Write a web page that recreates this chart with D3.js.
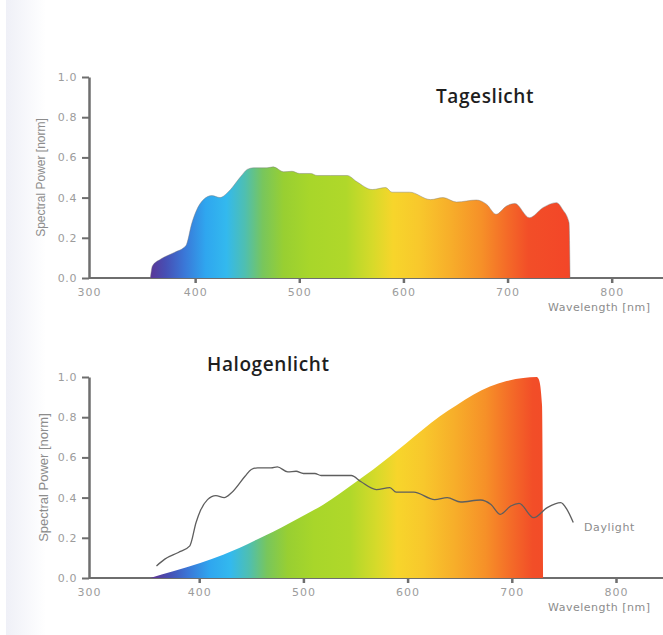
<!DOCTYPE html>
<html>
<head>
<meta charset="utf-8">
<script src="https://cdn.jsdelivr.net/npm/d3@7"></script>
<style>
  body { margin: 0; background: #fff; }
</style>
</head>
<body>
<div id="chart"></div>
<script>
// daylight spectrum (Tageslicht)
const dayWl = [357, 359, 367, 380, 391, 397, 401, 408, 416, 424, 431, 444, 450, 456, 469, 475, 485, 493, 500, 511, 517, 530, 546, 555, 570, 583, 589, 606, 626, 638, 651, 670, 680, 689, 699, 707, 721, 734, 747, 753, 759, 760];
const dayVal = [0.0, 0.06, 0.094, 0.127, 0.16, 0.276, 0.333, 0.39, 0.41, 0.40, 0.424, 0.506, 0.54, 0.548, 0.548, 0.553, 0.528, 0.531, 0.52, 0.52, 0.51, 0.51, 0.51, 0.48, 0.44, 0.45, 0.427, 0.427, 0.39, 0.40, 0.378, 0.388, 0.366, 0.317, 0.358, 0.371, 0.30, 0.35, 0.375, 0.34, 0.276, 0.0];

// halogen spectrum
const haloWl = [353, 375, 401, 423, 439, 455, 471, 487, 503, 519, 535, 551, 567, 583, 599, 615, 631, 647, 663, 679, 695, 711, 724, 726, 729, 730];
const haloVal = [0.0, 0.033, 0.075, 0.116, 0.15, 0.19, 0.23, 0.274, 0.318, 0.365, 0.42, 0.48, 0.54, 0.605, 0.672, 0.74, 0.805, 0.86, 0.912, 0.953, 0.98, 0.995, 1.0, 0.987, 0.86, 0.0];

const yTicks = [0, 0.2, 0.4, 0.6, 0.8, 1.0];
const xTicks = [300, 400, 500, 600, 700, 800];

// spectrum colours along wavelength
const spectrumStops = [
  [356, "#5b3595"], [372, "#4650b5"], [390, "#3a78d8"], [410, "#2fa6ef"],
  [430, "#33b9ee"], [448, "#4fbfb0"], [465, "#78c65c"], [485, "#98cf32"],
  [510, "#a8d62a"], [545, "#b0d82a"], [570, "#d6da2a"], [590, "#f7d52b"],
  [615, "#f8c82c"], [645, "#f7ae2a"], [675, "#f69028"], [700, "#f46a28"],
  [720, "#f24e28"], [760, "#f34628"]
];

const W = 663, H = 635;
const svg = d3.select("#chart").append("svg")
  .attr("width", W).attr("height", H)
  .style("font-family", "DejaVu Sans, sans-serif");

const defs = svg.append("defs");
const scan = defs.append("linearGradient").attr("id", "scan")
  .attr("x1", "0%").attr("x2", "100%");
scan.append("stop").attr("offset", "0%").attr("stop-color", "#eff0f7");
scan.append("stop").attr("offset", "100%").attr("stop-color", "#ffffff");
svg.append("rect").attr("x", 6).attr("y", 0).attr("width", 40).attr("height", H)
  .attr("fill", "url(#scan)");

// the two printed charts are not quite aligned, so each gets its own x scale
const xTop = d3.scaleLinear().domain([300, 800]).range([91, 611.7]);
const xBot = d3.scaleLinear().domain([300, 800]).range([95, 616]);

function spectrumGradient(id, x) {
  const g = defs.append("linearGradient").attr("id", id)
    .attr("gradientUnits", "userSpaceOnUse")
    .attr("x1", x(350)).attr("x2", x(800)).attr("y1", 0).attr("y2", 0);
  spectrumStops.forEach(function (s) {
    g.append("stop")
      .attr("offset", (x(s[0]) - x(350)) / (x(800) - x(350)))
      .attr("stop-color", s[1]);
  });
}
spectrumGradient("spec1", xTop);
spectrumGradient("spec2", xBot);

function drawAxes(x, top, bottom, labelSize, labelX) {
  const y = d3.scaleLinear().domain([0, 1]).range([bottom, top]);

  const gx = svg.append("g")
    .attr("transform", "translate(0," + bottom + ")")
    .call(d3.axisBottom(x).tickValues(xTicks).tickSize(5).tickSizeOuter(0).tickPadding(5));
  gx.select(".domain").attr("d", "M89,0H663").attr("stroke", "#6e6e6e").attr("stroke-width", 2);
  gx.selectAll(".tick line").attr("stroke", "#6e6e6e").attr("stroke-width", 2.5)
    .attr("opacity", d => d === 300 ? 0 : 1);
  gx.selectAll(".tick text")
    .attr("fill", "#9c9c9c").style("font-size", "11px").style("letter-spacing", "1px")
    .style("font-family", "DejaVu Sans, sans-serif")
    .attr("dx", d => d === 300 ? (89 - x(300)) : 0);

  const gy = svg.append("g")
    .attr("transform", "translate(89,0)")
    .call(d3.axisLeft(y).tickValues(yTicks).tickFormat(d3.format(".1f"))
      .tickSize(7).tickSizeOuter(0).tickPadding(5));
  gy.select(".domain").attr("stroke", "#6e6e6e").attr("stroke-width", 2.5);
  gy.selectAll(".tick line").attr("stroke", "#6e6e6e").attr("stroke-width", 2);
  gy.selectAll(".tick text")
    .attr("fill", "#9c9c9c").style("font-size", "11px").style("letter-spacing", "0.6px")
    .style("font-family", "DejaVu Sans, sans-serif");

  svg.append("text")
    .attr("transform", "translate(" + labelX + "," + ((top + bottom) / 2) + ") rotate(-90)")
    .attr("text-anchor", "middle")
    .attr("fill", "#8c8c8c")
    .style("font-family", "Liberation Sans Narrow, Liberation Sans, sans-serif")
    .style("font-size", labelSize + "px")
    .text("Spectral Power [norm]");

  svg.append("text")
    .attr("x", 548).attr("y", bottom + 33)
    .attr("fill", "#8c8c8c")
    .style("font-size", "11px").style("letter-spacing", "0.5px")
    .text("Wavelength [nm]");

  return y;
}

const day = dayWl.map((w, i) => ({w: w, v: dayVal[i]}));
const halo = haloWl.map((w, i) => ({w: w, v: haloVal[i]}));

// ---- top chart: Tageslicht
const y1 = drawAxes(xTop, 77, 278, 12, 45);
const area1 = d3.area().curve(d3.curveMonotoneX)
  .x(d => xTop(d.w)).y0(y1(0)).y1(d => y1(d.v));
svg.append("path").datum(day).attr("d", area1).attr("fill", "url(#spec1)");
svg.append("path").datum(day)
  .attr("d", d3.line().curve(d3.curveMonotoneX).x(d => xTop(d.w)).y(d => y1(d.v)))
  .attr("fill", "none").attr("stroke", "#7a7a7a").attr("stroke-opacity", 0.55).attr("stroke-width", 0.8);

svg.append("text").attr("x", 436).attr("y", 103)
  .attr("fill", "#1e1e1e")
  .style("font-family", "Open Sans, sans-serif").style("font-weight", 600)
  .style("font-size", "19px").style("letter-spacing", "0.6px")
  .text("Tageslicht");

// ---- bottom chart: Halogenlicht
const y2 = drawAxes(xBot, 377, 578, 13, 48);
const area2 = d3.area().curve(d3.curveMonotoneX)
  .x(d => xBot(d.w)).y0(y2(0)).y1(d => y2(d.v));
svg.append("path").datum(halo).attr("d", area2).attr("fill", "url(#spec2)");

svg.append("path").datum(day.slice(1, -1))
  .attr("d", d3.line().curve(d3.curveMonotoneX).x(d => xBot(d.w)).y(d => y2(d.v)))
  .attr("fill", "none").attr("stroke", "#5e5e5e").attr("stroke-width", 1.3);

svg.append("text").attr("x", 584).attr("y", 531)
  .attr("fill", "#8c8c8c")
  .style("font-size", "11px").style("letter-spacing", "0.6px")
  .text("Daylight");

svg.append("text").attr("x", 207).attr("y", 371)
  .attr("fill", "#1e1e1e")
  .style("font-family", "Open Sans, sans-serif").style("font-weight", 600)
  .style("font-size", "19px").style("letter-spacing", "0.6px")
  .text("Halogenlicht");
</script>
</body>
</html>
